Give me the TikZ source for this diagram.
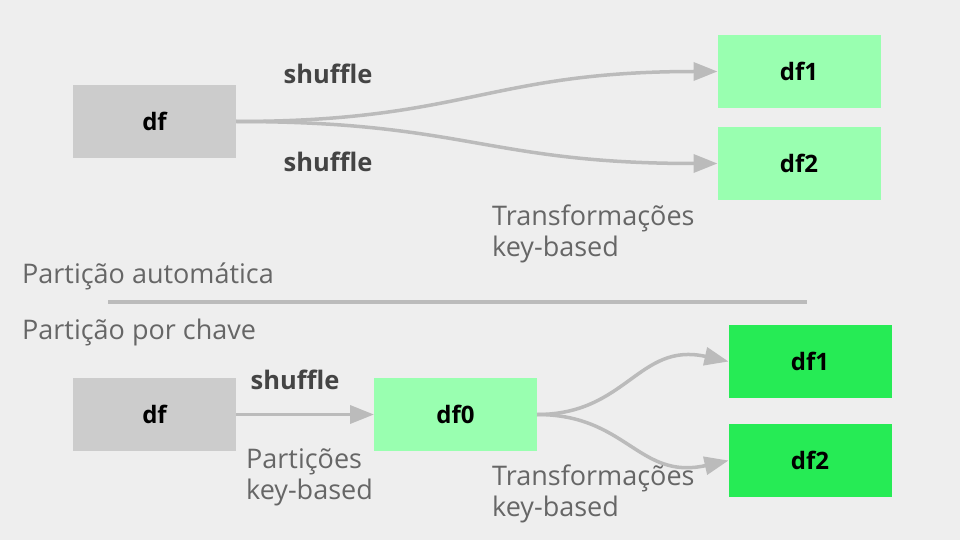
\documentclass[tikz,border=0pt]{standalone}
\usepackage{fontspec}
\setmainfont{Open Sans}
\usetikzlibrary{arrows.meta}
\definecolor{bg}{HTML}{EEEEEE}
\definecolor{greybox}{HTML}{CCCCCC}
\definecolor{lightgreen}{HTML}{99FFB0}
\definecolor{brightgreen}{HTML}{26EB55}
\definecolor{conn}{HTML}{BBBBBB}
\definecolor{labeldark}{HTML}{444444}
\definecolor{labelgrey}{HTML}{666666}
\tikzset{
  box/.style={minimum width=163pt, minimum height=73pt, inner sep=0pt, outer sep=0pt, font=\fontsize{24}{28}\selectfont\bfseries, text=black},
  srcbox/.style={box, fill=greybox},
  midbox/.style={box, fill=lightgreen},
  outbox/.style={box, fill=brightgreen},
  conarrow/.style={draw=conn, line width=3.5pt, -{Triangle[length=24pt, width=18pt]}},
  shuf/.style={font=\fontsize{25.5}{28}\selectfont\bfseries, text=labeldark},
  note/.style={font=\fontsize{27}{31}\selectfont, text=labelgrey, align=left, anchor=north west, inner sep=0pt}
}
\begin{document}
\begin{tikzpicture}[x=1pt,y=-1pt]
\fill[bg] (0,0) rectangle (960,540);
\useasboundingbox (0,0) rectangle (960,540);
% top
\node[srcbox] (dfA) at (154.5,121.5) {df};
\node[midbox] (d1A) at (799,71.5) {df1};
\node[midbox] (d2A) at (799,163.5) {df2};
\draw[conarrow] (dfA.east) .. controls +(230,0) and +(-230,0) .. (d1A.west);
\draw[conarrow] (dfA.east) .. controls +(230,0) and +(-230,0) .. (d2A.west);
\node[shuf] (s1) at (328,74) {shuffle};
\node[shuf] (s2) at (328,162) {shuffle};
\node[note] (tA) at (492,205) {Transformações\\key-based};
% separator
\node[note] (pa) at (22,263) {Partição automática};
\coordinate (sepL) at (108,302);
\coordinate (sepR) at (807,302);
\draw[conn, line width=3.5pt] (sepL) -- (sepR);
\node[note] (pc) at (22,319) {Partição por chave};
% bottom
\node[srcbox] (dfB) at (154.5,414.5) {df};
\node[midbox] (d0B) at (455.5,414.5) {df0};
\node[outbox] (d1B) at (810,361.5) {df1};
\node[outbox] (d2B) at (810,460.5) {df2};
\draw[conarrow] (dfB.east) -- (d0B.west);
\draw[conarrow] (d0B.east) .. controls +(90,0) and +(-90,-20) .. (d1B.west);
\draw[conarrow] (d0B.east) .. controls +(90,0) and +(-90,20) .. (d2B.west);
\node[shuf] (s3) at (295,380) {shuffle};
\node[note] (pk) at (246,448) {Partições\\key-based};
\node[note] (tB) at (492,465) {Transformações\\key-based};
\end{tikzpicture}
\end{document}
